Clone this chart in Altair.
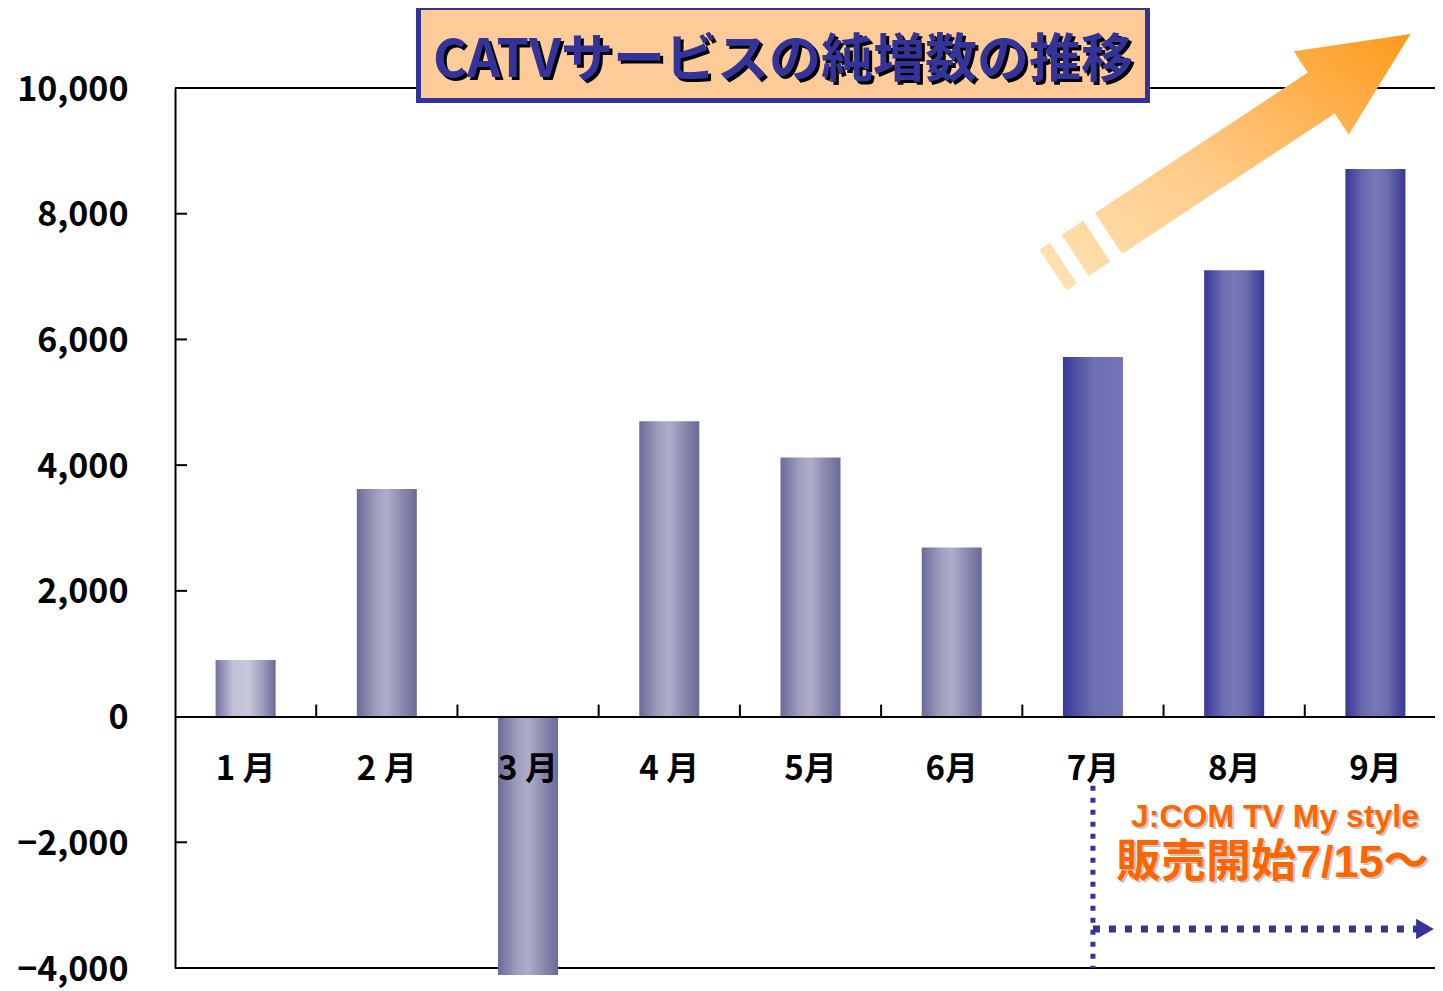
import math
import altair as alt
import pandas as pd

# ---------------- data ----------------
months = ["1 月", "2 月", "3 月", "4 月", "5月", "6月", "7月", "8月", "9月"]
net_adds = [900, 3620, -4110, 4700, 4120, 2690, 5720, 7100, 8710]
y_tick_values = [-4000, -2000, 0, 2000, 4000, 6000, 8000, 10000]
inner_ticks = [-2000, 2000, 4000, 6000, 8000]
frame_values = [10000, -4000]
title_text = ["CATVサービスの純増数の推移"]
note_line1 = ["J:COM TV My style"]
note_line2 = ["販売開始7/15～"]
launch_month = ["7月"]
note_top = [-1100]
note_bottom = [-4000]
note_arrow_y = [-3380]

# ---------------- layout ----------------
W, H = 1260, 880
X_RANGE = 1271
STEP = X_RANGE / len(months)
Y_MIN, Y_MAX = -4000, 10000
zero_px = H * Y_MAX / (Y_MAX - Y_MIN)
JP = "Noto Sans CJK JP"
NAVY = "#333399"
ORANGE = "#FF6600"

df = pd.DataFrame({"month": months, "value": net_adds})

x_scale = alt.Scale(domain=months, range=[0, X_RANGE], paddingInner=0.575, paddingOuter=0.2875)
y_scale = alt.Scale(domain=[Y_MIN, Y_MAX], nice=False, zero=False)


def grad(stops, x1=0, y1=0, x2=1, y2=0):
    return alt.Gradient(
        gradient="linear", x1=x1, y1=y1, x2=x2, y2=y2,
        stops=[alt.GradientStop(color=c, offset=o) for o, c in stops],
    )


g_light = grad([(0, "#7373a0"), (0.3, "#c2c2d8"), (0.55, "#c8c8dc"), (0.8, "#9a9abc"), (1, "#6a6a98")])
g_gray = grad([(0, "#6a6a9a"), (0.3, "#9c9cbc"), (0.5, "#aeaecb"), (0.75, "#8a8ab0"), (1, "#6a6a9a")])
g_launch = grad([(0, "#383898"), (0.5, "#6e6eb3"), (1, "#7474b8")])
g_blue = grad([(0, "#373797"), (0.3, "#6a6ab2"), (0.5, "#7878b8"), (0.7, "#6c6cb0"), (1, "#373797")])

x_axis = alt.Axis(
    title=None, orient="top", offset=-zero_px, zindex=1,
    domainColor="black", domainWidth=2,
    ticks=False, tickSize=0,
    labelAngle=0, labelBaseline="middle", labelPadding=-53,
    labelFont=JP, labelFontSize=33, labelFontWeight="bold", labelColor="black",
    grid=False,
)
y_axis = alt.Axis(
    title=None, values=y_tick_values, format=",d",
    domainColor="black", domainWidth=2,
    ticks=False, tickSize=0, labelPadding=47, labelOffset=2,
    labelFont=JP, labelFontSize=34, labelFontWeight="bold", labelColor="black",
    grid=False,
)


def X(field):
    return alt.X(field, scale=x_scale, axis=x_axis, sort=months)


def Y(field):
    return alt.Y(field, scale=y_scale, axis=y_axis)


base = alt.Chart(df)


def bars(sel, fill):
    return base.transform_filter(
        alt.FieldOneOfPredicate(field="month", oneOf=sel)
    ).mark_bar(color=fill, strokeWidth=0).encode(x=X("month:N"), y=Y("value:Q"))


frame = alt.Chart(pd.DataFrame({"value": frame_values})).mark_rule(color="black", strokeWidth=2).encode(
    y=Y("value:Q"), x=alt.value(0), x2=alt.value(W)
)
yticks = alt.Chart(pd.DataFrame({"value": inner_ticks})).mark_rule(color="black", strokeWidth=2).encode(
    y=Y("value:Q"), x=alt.value(0), x2=alt.value(12)
)
# category separators on the zero line (between neighbouring months)
xticks = alt.Chart(pd.DataFrame({"month": months[:-1], "value": [0] * (len(months) - 1)})).mark_rule(
    color="black", strokeWidth=2, xOffset=STEP / 2
).encode(x=X("month:N"), y=Y("value:Q"), y2=alt.value(zero_px - 12))

# title box
tdf = pd.DataFrame({"t": title_text})
title_box = alt.Chart(tdf).mark_rect(fill="#FFCC99", stroke=NAVY, strokeWidth=5).encode(
    x=alt.value(243.5), x2=alt.value(972.5), y=alt.value(-80.5), y2=alt.value(12.5)
)
title_shadow = alt.Chart(tdf).mark_text(
    font=JP, fontSize=52, fontWeight="bold", color="black", align="center", baseline="middle"
).encode(text="t:N", x=alt.value(611), y=alt.value(-24))
title_main = alt.Chart(tdf).mark_text(
    font=JP, fontSize=52, fontWeight="bold", color=NAVY, align="center", baseline="middle"
).encode(text="t:N", x=alt.value(608), y=alt.value(-27))

# growth arrow (decorative), shape defined along its own axis
ang = math.atan2(0.551, 0.834)
u = (math.cos(ang), -math.sin(ang))
n = (math.sin(ang), math.cos(ang))
hw = 24.5
polys = [
    [(0, -hw), (255, -hw), (255, -50), (362, 0), (255, 50), (255, hw), (0, hw)],
    [(-40, -hw), (-14, -hw), (-14, hw), (-40, hw)],
    [(-66.5, -hw), (-54, -hw), (-54, hw), (-66.5, hw)],
]
parts = []
for poly in polys:
    pts = [(t * u[0] + s * n[0], t * u[1] + s * n[1]) for t, s in poly]
    parts.append("M" + " L".join(f"{px:.1f} {py:.1f}" for px, py in pts) + " Z")
arrow_path = " ".join(parts)
g_arrow = grad([(0, "#FFE4B5"), (0.45, "#FFCB8A"), (1, "#FF9A1A")], x1=0, y1=1, x2=1, y2=0)
arrow = alt.Chart(pd.DataFrame({"a": [1]})).mark_point(
    shape=arrow_path, size=4, filled=True, fill=g_arrow, strokeWidth=0, opacity=1
).encode(x=alt.value(933.5), y=alt.value(145.5))

# launch annotation
adf = pd.DataFrame({"month": launch_month, "value": note_top, "bottom": note_bottom})
bdf = pd.DataFrame({"month": launch_month, "value": note_arrow_y})
vline = alt.Chart(adf).mark_rule(color=NAVY, strokeWidth=5, strokeDash=[5, 7]).encode(
    x=X("month:N"), y=Y("value:Q"), y2="bottom:Q",
)
hline = alt.Chart(bdf).mark_rule(color=NAVY, strokeWidth=7, strokeDash=[7, 9]).encode(
    x=X("month:N"), x2=alt.value(W - 18), y=Y("value:Q"),
)
ahead = alt.Chart(bdf).mark_point(shape="triangle-right", size=420, filled=True, color=NAVY, opacity=1).encode(
    x=alt.value(W - 10), y=Y("value:Q")
)

n1 = pd.DataFrame({"t": note_line1})
n2 = pd.DataFrame({"t": note_line2})
F2 = f"Liberation Sans, {JP}"
note1_sh = alt.Chart(n1).mark_text(font="Liberation Sans", fontSize=32, fontWeight="bold", color="#C8C8C8",
                                   align="center", baseline="middle").encode(text="t:N", x=alt.value(1102), y=alt.value(731))
note1 = alt.Chart(n1).mark_text(font="Liberation Sans", fontSize=32, fontWeight="bold", color=ORANGE,
                                align="center", baseline="middle").encode(text="t:N", x=alt.value(1100), y=alt.value(729))
note2_sh = alt.Chart(n2).mark_text(font=F2, fontSize=45, fontWeight="bold", color="#C8C8C8",
                                   align="left", baseline="middle").encode(text="t:N", x=alt.value(943), y=alt.value(777))
note2 = alt.Chart(n2).mark_text(font=F2, fontSize=45, fontWeight="bold", color=ORANGE,
                                align="left", baseline="middle").encode(text="t:N", x=alt.value(941), y=alt.value(775))

chart = alt.layer(
    frame,
    bars(months[0:1], g_light),
    bars(months[1:6], g_gray),
    bars(months[6:7], g_launch),
    bars(months[7:9], g_blue),
    yticks, xticks,
    arrow,
    title_box, title_shadow, title_main,
    vline, hline, ahead,
    note1_sh, note1, note2_sh, note2,
).properties(
    width=W, height=H,
    padding={"left": 167, "top": 80, "right": 0, "bottom": 22},
    autosize=alt.AutoSizeParams(type="none"),
    background="white",
).configure_view(stroke=None)

chart.save("out.html", embed_options={"renderer": "svg", "actions": False})
